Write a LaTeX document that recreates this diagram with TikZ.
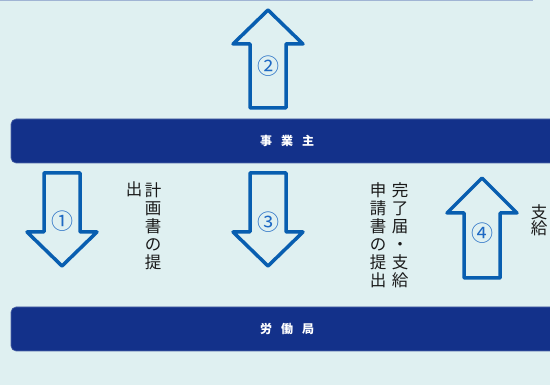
\documentclass[tikz,border=0pt]{standalone}
\usepackage{fontspec}
\newfontfamily\jpfont{Noto Sans CJK JP}
\definecolor{bgcyan}{RGB}{223,240,241}
\definecolor{barblue}{RGB}{19,49,138}
\definecolor{arrowblue}{RGB}{8,94,176}
\definecolor{numblue}{RGB}{30,105,195}
\definecolor{inkgrey}{RGB}{25,25,25}
\definecolor{rulegrey}{RGB}{160,180,212}

\begin{document}
\begin{tikzpicture}[x=1pt, y=-1pt,
                    bar/.style={fill=barblue, draw=barblue!75!white, line width=0.6pt, rounded corners=5pt,
                                minimum width=552pt, minimum height=44pt, inner sep=0pt,
                                text=white, font=\jpfont\bfseries\fontsize{12}{14}\selectfont},
                    bigarrow/.style={draw=arrowblue, line width=3.5pt, line join=round},
                    num/.style={text=numblue, inner sep=0pt, font=\jpfont\fontsize{22}{22}\selectfont},
                    vtext/.style={anchor=north, align=center, inner sep=0pt, text=inkgrey,
                                  font=\jpfont\fontsize{16.5}{18}\selectfont}]

            \fill[bgcyan] (0,0) rectangle (550,385);
            \useasboundingbox (0,0) rectangle (550,385);
            \draw[rulegrey, line width=1pt] (0,0.5) -- (533,0.5);

            % the two parties
            \node[bar] (owner)  at (287,141) {事\hspace{9pt}業\hspace{9pt}主};
            \node[bar] (bureau) at (287,329) {労\hspace{9pt}働\hspace{9pt}局};

            % block arrows
            \draw[bigarrow] (268,10) -- (303,44) -- (286,44) -- (286,108) -- (250,108) -- (250,44) -- (233,44) -- cycle;
            \draw[bigarrow] (62,266) -- (97,232) -- (80,232) -- (80,173) -- (44,173) -- (44,232) -- (27,232) -- cycle;
            \draw[bigarrow] (268,266) -- (303,232) -- (286,232) -- (286,173) -- (250,173) -- (250,232) -- (233,232) -- cycle;
            \draw[bigarrow] (482,178) -- (517,213) -- (500,213) -- (500,278) -- (464,278) -- (464,213) -- (447,213) -- cycle;

            \node[num] (n1) at (62,221)  {①};
            \node[num] (n2) at (268,66)  {②};
            \node[num] (n3) at (268,222) {③};
            \node[num] (n4) at (482,233) {④};

            % vertical captions, right column first
            \node[vtext] (plana)  at (153,182) {計\\画\\書\\の\\提};
            \node[vtext] (planb)  at (134,182) {出};
            \node[vtext] (claima) at (400,182) {完\\了\\届\\・\\支\\給};
            \node[vtext] (claimb) at (378,182) {申\\請\\書\\の\\提\\出};
            \node[vtext, font=\jpfont\fontsize{16.5}{14}\selectfont] (pay) at (539,204) {支\\給};
        \end{tikzpicture}
\end{document}
